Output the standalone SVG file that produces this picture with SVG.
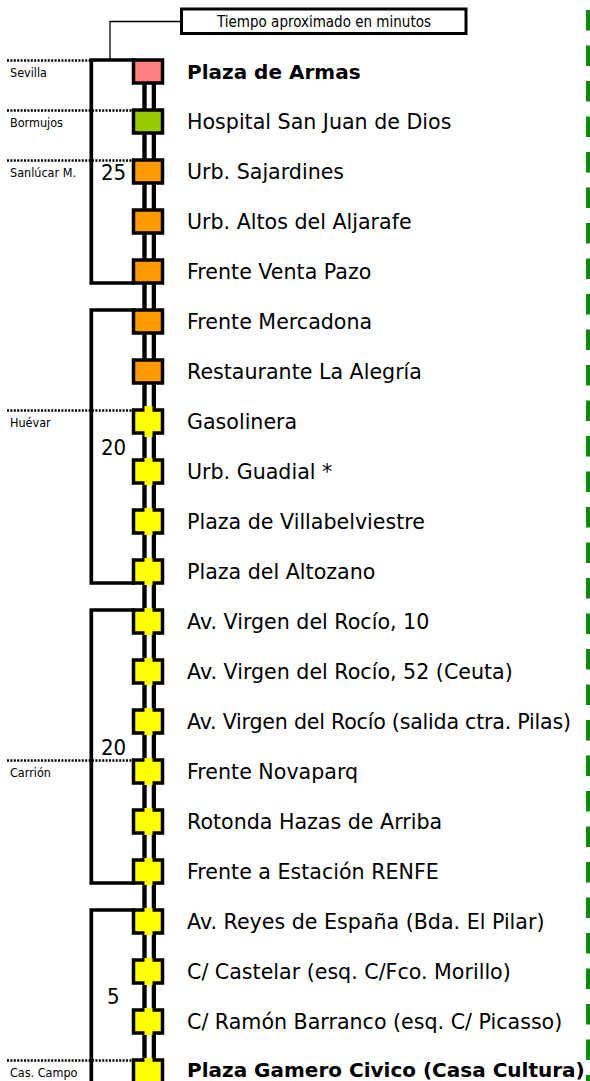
<svg xmlns="http://www.w3.org/2000/svg" width="590" height="1081" viewBox="0 0 590 1081">
<style>
.st{font-family:"DejaVu Sans",Verdana,sans-serif;font-size:20.6px;fill:#000}
.b{font-weight:bold;font-size:20px}
.zn{font-family:"DejaVu Sans Condensed","DejaVu Sans",sans-serif;font-size:12.5px;fill:#000}
.num{font-family:"DejaVu Sans Condensed","DejaVu Sans",sans-serif;font-size:22px;fill:#000}
.sq{stroke:#000;stroke-width:3.5}
.pk{fill:#ff8080}.gr{fill:#99cc00}.or{fill:#ff9900}.ye{fill:#ffff00}
.br{fill:none;stroke:#000;stroke-width:3.7}
.dot{fill:none;stroke:#000;stroke-width:2.6;stroke-dasharray:2 1.4}
</style>
<rect width="590" height="1081" fill="#fff"/>
<g id="connectors">
  <path d="M110 60 V21.5 H181" fill="none" stroke="#000" stroke-width="1.3"/>
  <path class="br" d="M135 60 H91.3 V283 H135"/>
  <path class="br" d="M135 310 H91.3 V583 H135"/>
  <path class="br" d="M135 610 H91.3 V883 H135"/>
  <path class="br" d="M135 910 H91.3 V1081"/>
  <path class="dot" d="M7 60.5 H90"/>
  <path class="dot" d="M7 110.5 H132"/>
  <path class="dot" d="M7 160.5 H132"/>
  <path class="dot" d="M7 410.5 H132"/>
  <path class="dot" d="M7 760.5 H132"/>
  <path class="dot" d="M7 1060.5 H132"/>
  <rect x="142.3" y="70" width="13.7" height="1011" fill="#000"/>
  <rect x="146.7" y="70" width="5" height="1011" fill="#fff"/>
  <line x1="588" y1="10" x2="588" y2="1081" stroke="#0b8a0b" stroke-width="4" stroke-dasharray="20.5 15"/>
</g>
<g id="legend">
  <rect x="181.5" y="9" width="284.5" height="24.5" fill="#fff" stroke="#000" stroke-width="3"/>
  <text x="324" y="26.5" text-anchor="middle" font-family="'DejaVu Sans Condensed','DejaVu Sans',sans-serif" font-size="15">Tiempo aproximado en minutos</text>
</g>
<g id="zones">
  <text class="zn" x="10" y="76.7">Sevilla</text>
  <text class="zn" x="10" y="126.7">Bormujos</text>
  <text class="zn" x="10" y="176.7">Sanlúcar M.</text>
  <text class="zn" x="10" y="426.7">Huévar</text>
  <text class="zn" x="10" y="776.7">Carrión</text>
  <text class="zn" x="10" y="1076.7">Cas. Campo</text>
</g>
<g id="times">
  <text class="num" x="101" y="180">25</text>
  <text class="num" x="101" y="455">20</text>
  <text class="num" x="101" y="755">20</text>
  <text class="num" x="107" y="1004">5</text>
</g>
<g id="n0"><rect class="sq pk" x="133.5" y="60" width="29" height="23"/><text class="st b" x="187" y="78.5">Plaza de Armas</text></g>
<g id="n1"><rect class="sq gr" x="133.5" y="110" width="29" height="23"/><text class="st" x="187" y="128.5">Hospital San Juan de Dios</text></g>
<g id="n2"><rect class="sq or" x="133.5" y="160" width="29" height="23"/><text class="st" x="187" y="178.5">Urb. Sajardines</text></g>
<g id="n3"><rect class="sq or" x="133.5" y="210" width="29" height="23"/><text class="st" x="187" y="228.5">Urb. Altos del Aljarafe</text></g>
<g id="n4"><rect class="sq or" x="133.5" y="260" width="29" height="23"/><text class="st" x="187" y="278.5">Frente Venta Pazo</text></g>
<g id="n5"><rect class="sq or" x="133.5" y="310" width="29" height="23"/><text class="st" x="187" y="328.5">Frente Mercadona</text></g>
<g id="n6"><rect class="sq or" x="133.5" y="360" width="29" height="23"/><text class="st" x="187" y="378.5">Restaurante La Alegría</text></g>
<g id="n7"><rect class="sq ye" x="133.5" y="410" width="29" height="23"/><rect class="ye" x="144.5" y="406" width="8" height="31"/><text class="st" x="187" y="428.5">Gasolinera</text></g>
<g id="n8"><rect class="sq ye" x="133.5" y="460" width="29" height="23"/><rect class="ye" x="144.5" y="458" width="8" height="27"/><text class="st" x="187" y="478.5">Urb. Guadial *</text></g>
<g id="n9"><rect class="sq ye" x="133.5" y="510" width="29" height="23"/><rect class="ye" x="144.5" y="508" width="8" height="27"/><text class="st" x="187" y="528.5">Plaza de Villabelviestre</text></g>
<g id="n10"><rect class="sq ye" x="133.5" y="560" width="29" height="23"/><rect class="ye" x="144.5" y="558" width="8" height="27"/><text class="st" x="187" y="578.5">Plaza del Altozano</text></g>
<g id="n11"><rect class="sq ye" x="133.5" y="610" width="29" height="23"/><rect class="ye" x="144.5" y="608" width="8" height="27"/><text class="st" x="187" y="628.5">Av. Virgen del Rocío, 10</text></g>
<g id="n12"><rect class="sq ye" x="133.5" y="660" width="29" height="23"/><rect class="ye" x="144.5" y="658" width="8" height="27"/><text class="st" x="187" y="678.5">Av. Virgen del Rocío, 52 (Ceuta)</text></g>
<g id="n13"><rect class="sq ye" x="133.5" y="710" width="29" height="23"/><rect class="ye" x="144.5" y="708" width="8" height="27"/><text class="st" x="187" y="728.5" textLength="384" lengthAdjust="spacing">Av. Virgen del Rocío (salida ctra. Pilas)</text></g>
<g id="n14"><rect class="sq ye" x="133.5" y="760" width="29" height="23"/><rect class="ye" x="144.5" y="758" width="8" height="27"/><text class="st" x="187" y="778.5">Frente Novaparq</text></g>
<g id="n15"><rect class="sq ye" x="133.5" y="810" width="29" height="23"/><rect class="ye" x="144.5" y="808" width="8" height="27"/><text class="st" x="187" y="828.5">Rotonda Hazas de Arriba</text></g>
<g id="n16"><rect class="sq ye" x="133.5" y="860" width="29" height="23"/><rect class="ye" x="144.5" y="858" width="8" height="27"/><text class="st" x="187" y="878.5">Frente a Estación RENFE</text></g>
<g id="n17"><rect class="sq ye" x="133.5" y="910" width="29" height="23"/><rect class="ye" x="144.5" y="908" width="8" height="27"/><text class="st" x="187" y="928.5">Av. Reyes de España (Bda. El Pilar)</text></g>
<g id="n18"><rect class="sq ye" x="133.5" y="960" width="29" height="23"/><rect class="ye" x="144.5" y="958" width="8" height="27"/><text class="st" x="187" y="978.5">C/ Castelar (esq. C/Fco. Morillo)</text></g>
<g id="n19"><rect class="sq ye" x="133.5" y="1010" width="29" height="23"/><rect class="ye" x="144.5" y="1008" width="8" height="27"/><text class="st" x="187" y="1028.5">C/ Ramón Barranco (esq. C/ Picasso)</text></g>
<g id="n20"><rect class="sq ye" x="133.5" y="1060" width="29" height="23"/><rect class="ye" x="144.5" y="1058" width="8" height="27"/><text class="st b" x="187" y="1077">Plaza Gamero Civico (Casa Cultura)</text></g>
</svg>
